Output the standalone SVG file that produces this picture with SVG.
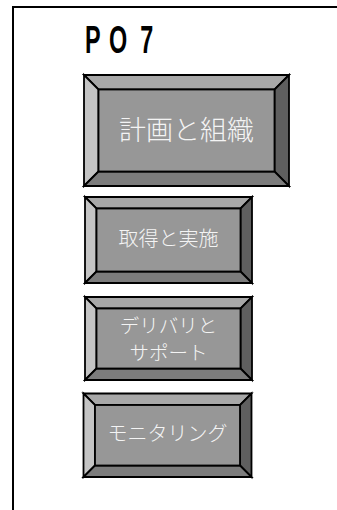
<svg xmlns="http://www.w3.org/2000/svg" width="337" height="510" viewBox="0 0 337 510">
<style>
.t{fill:#a8a8a8}.l{fill:#c4c4c4}.r{fill:#5f5f5f}.b{fill:#7c7c7c}.f{fill:#979797}
.bev polygon,.bev rect{stroke:#000;stroke-width:1.8;stroke-linejoin:miter}
.lbl{font-family:"Noto Sans CJK JP","Noto Sans",sans-serif;font-weight:300;fill:#f4f4f4;text-anchor:middle}
</style>
<g id="frame"><path d="M13,510 V7 H337" fill="none" stroke="#000" stroke-width="2"/></g>
<g id="title"><text transform="translate(85,53) scale(0.6,1)" x="0 40 92" font-family="Liberation Sans, Arial, sans-serif" font-weight="bold" font-size="39" fill="#000">PO7</text></g>
<g id="n1" class="bev">
<polygon class="t" points="84,75 289,75 274.5,89.5 98.5,89.5"/>
<polygon class="l" points="84,75 98.5,89.5 98.5,171.5 84,186"/>
<polygon class="r" points="289,75 289,186 274.5,171.5 274.5,89.5"/>
<polygon class="b" points="84,186 98.5,171.5 274.5,171.5 289,186"/>
<rect class="f" x="98.5" y="89.5" width="176" height="82"/>
<text class="lbl" x="186.5" y="139.5" font-size="27">計画と組織</text>
</g>
<g id="n2" class="bev">
<polygon class="t" points="85,197 252,197 240.5,208.5 96.5,208.5"/>
<polygon class="l" points="85,197 96.5,208.5 96.5,271.5 85,283"/>
<polygon class="r" points="252,197 252,283 240.5,271.5 240.5,208.5"/>
<polygon class="b" points="85,283 96.5,271.5 240.5,271.5 252,283"/>
<rect class="f" x="96.5" y="208.5" width="144" height="63"/>
<text class="lbl" x="168.5" y="246" font-size="20">取得と実施</text>
</g>
<g id="n3" class="bev">
<polygon class="t" points="85,297 252,297 240.5,308.5 96.5,308.5"/>
<polygon class="l" points="85,297 96.5,308.5 96.5,368.5 85,380"/>
<polygon class="r" points="252,297 252,380 240.5,368.5 240.5,308.5"/>
<polygon class="b" points="85,380 96.5,368.5 240.5,368.5 252,380"/>
<rect class="f" x="96.5" y="308.5" width="144" height="60"/>
<text class="lbl" x="168.5" y="333" font-size="19.5">デリバリと</text>
<text class="lbl" x="168.5" y="360" font-size="19.5">サポート</text>
</g>
<g id="n4" class="bev">
<polygon class="t" points="83.5,393.5 251.5,393.5 240,405 95,405"/>
<polygon class="l" points="83.5,393.5 95,405 95,465.5 83.5,477"/>
<polygon class="r" points="251.5,393.5 251.5,477 240,465.5 240,405"/>
<polygon class="b" points="83.5,477 95,465.5 240,465.5 251.5,477"/>
<rect class="f" x="95" y="405" width="145" height="60.5"/>
<text class="lbl" x="167.5" y="440.5" font-size="20">モニタリング</text>
</g>
</svg>
